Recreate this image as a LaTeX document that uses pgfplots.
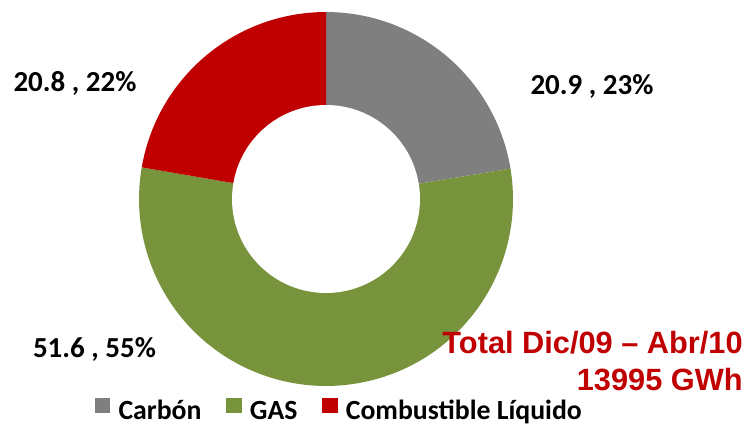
\documentclass[border=0pt]{standalone}
\usepackage{pgfplots}
\pgfplotsset{compat=1.18}
\usepackage{pgfplotstable}
\usepackage{fontspec}
\setmainfont{Carlito}
\newfontfamily\arialfont{Liberation Sans}
\definecolor{cgray}{HTML}{7F7F7F}
\definecolor{cgreen}{HTML}{77933C}
\definecolor{cred}{HTML}{C00000}

\pgfplotstableread{
name value
Carbon 20.9
GAS 51.6
Liquido 20.8
}\piedata

\pgfplotsset{sq/.style={legend image code/.code={\fill[##1,draw=none] (0cm,-0.03cm) rectangle (0.31cm,0.28cm);\path (0.40cm,0cm);}}}

\begin{document}
\begin{tikzpicture}
\pgfplotstablegetelem{0}{value}\of\piedata \let\vA\pgfplotsretval
\pgfplotstablegetelem{1}{value}\of\piedata \let\vB\pgfplotsretval
\pgfplotstablegetelem{2}{value}\of\piedata \let\vC\pgfplotsretval
\pgfmathsetmacro\tot{\vA+\vB+\vC}
\pgfmathsetmacro\aA{90}
\pgfmathsetmacro\aB{\aA-360*(\vA/\tot)}
\pgfmathsetmacro\aC{\aB-360*(\vB/\tot)}
\pgfmathsetmacro\aD{\aC-360*(\vC/\tot)}
\def\Ro{3.74cm}
\def\Ri{1.88cm}
\begin{axis}[x=0.02cm,y=0.02cm,xmin=0,xmax=753,ymin=0,ymax=426,
  hide axis, clip=false,
  legend columns=3,
  legend style={at={(axis cs:340,-4)}, anchor=south, draw=none, fill=none,
    font=\fontsize{15.8}{18}\selectfont\bfseries,
    /tikz/every even column/.append style={column sep=0.42cm}},
]
\addlegendimage{sq, fill=cgray}\addlegendentry{Carbón}
\addlegendimage{sq, fill=cgreen}\addlegendentry{GAS}
\addlegendimage{sq, fill=cred}\addlegendentry{Combustible Líquido}

\fill[cgray] (axis cs:326,227) -- ++(\aA:\Ro) arc[start angle=\aA,end angle=\aB,radius=\Ro] -- cycle;
\fill[cgreen] (axis cs:326,227) -- ++(\aB:\Ro) arc[start angle=\aB,end angle=\aC,radius=\Ro] -- cycle;
\fill[cred] (axis cs:326,227) -- ++(\aC:\Ro) arc[start angle=\aC,end angle=\aD,radius=\Ro] -- cycle;
\fill[white] (axis cs:326,227) circle[radius=\Ri];

\node[anchor=base, font=\fontsize{16.5}{19}\selectfont\bfseries] at (axis cs:592,331) {20.9 , 23\%};
\node[anchor=base, font=\fontsize{16.5}{19}\selectfont\bfseries] at (axis cs:75,334) {20.8 , 22\%};
\node[anchor=base, font=\fontsize{16.5}{19}\selectfont\bfseries] at (axis cs:94.5,69) {51.6 , 55\%};

\node[anchor=base east, inner sep=0pt, text=cred, font=\arialfont\fontsize{17.5}{20}\selectfont\bfseries] at (axis cs:743,73) {Total Dic/09 – Abr/10};
\node[anchor=base east, inner sep=0pt, text=cred, font=\arialfont\fontsize{17.5}{20}\selectfont\bfseries] at (axis cs:743,36) {13995 GWh};

\coordinate (ll) at (axis cs:0,0);
\coordinate (ur) at (axis cs:753,426);
\end{axis}
\pgfresetboundingbox
\path (ll) rectangle (ur);
\end{tikzpicture}
\end{document}
